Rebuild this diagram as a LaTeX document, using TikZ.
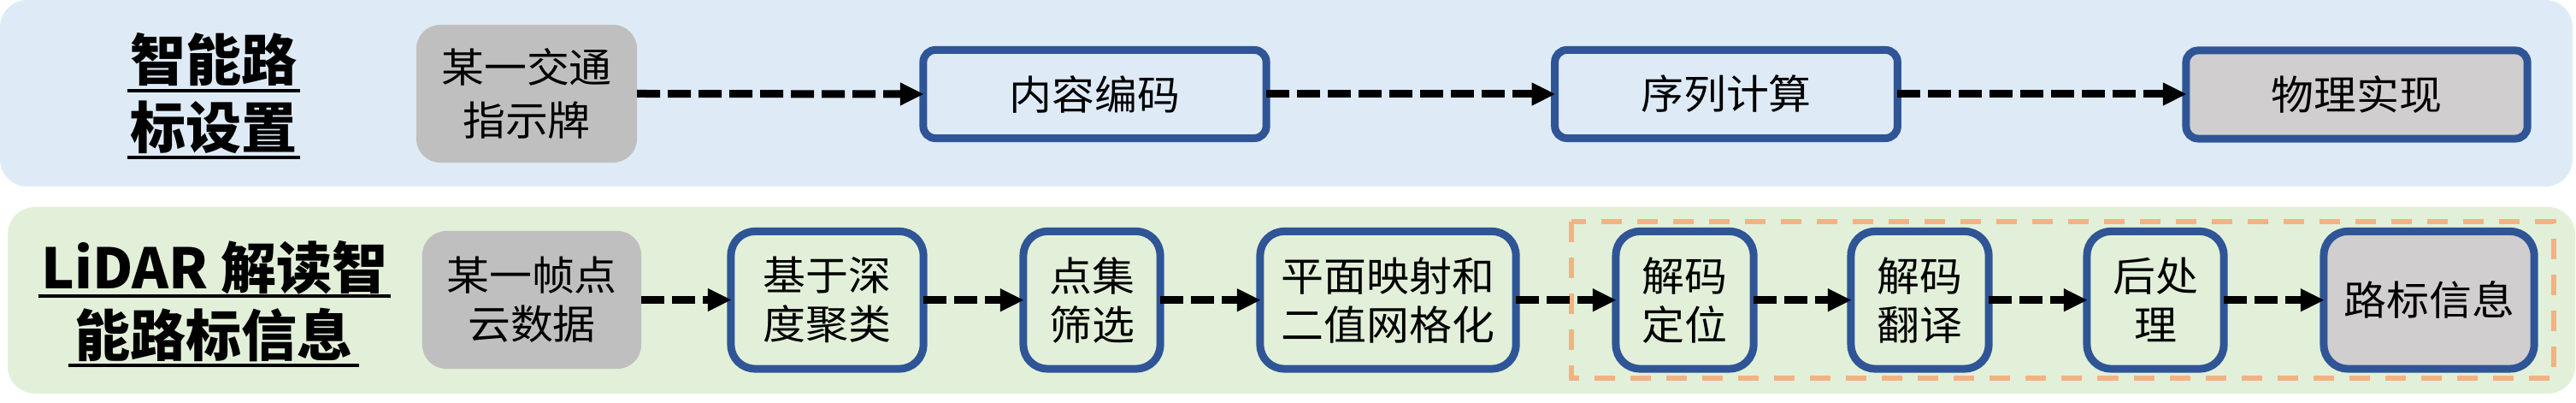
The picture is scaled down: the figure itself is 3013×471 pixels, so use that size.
\documentclass[tikz,border=0pt]{standalone}
\usepackage{fontspec}
\newfontfamily\cjk[FakeStretch=1.06]{Noto Sans CJK SC}
\newfontfamily\cjkt{Noto Sans CJK SC}
\usetikzlibrary{arrows.meta}
\definecolor{panelblue}{RGB}{222,235,247}
\definecolor{panelgreen}{RGB}{226,240,217}
\definecolor{boxgray}{RGB}{191,191,191}
\definecolor{boxgraytwo}{RGB}{208,206,206}
\definecolor{boxblue}{RGB}{47,85,151}
\definecolor{dashorange}{RGB}{244,177,131}
\tikzset{
  panel/.style={rounded corners=0.32cm},
  titletext/.style={inner sep=0pt, outer sep=0pt, font=\fontsize{18.5pt}{22pt}\cjkt\bfseries},
  uline/.style={line width=1.1pt, black},
  bodyfontlow/.style={font=\fontsize{13.4pt}{16.2pt}\cjk},
  bodyfonttop/.style={font=\fontsize{13.4pt}{17.6pt}\cjk},
  graybox/.style={fill=boxgray, rounded corners=0.28cm, inner sep=0pt, outer sep=0pt, align=center},
  topbox/.style={draw=boxblue, line width=2.56pt, rounded corners=0.14cm, inner sep=0pt, outer sep=0pt, align=center, minimum height=1.03cm},
  lowbox/.style={draw=boxblue, line width=2.56pt, rounded corners=0.28cm, inner sep=0pt, outer sep=0pt, align=center, minimum height=1.605cm},
  flow/.style={line width=2.56pt, dash pattern=on 7.68pt off 2.56pt, -{Triangle[length=7.68pt,width=7.68pt,line width=0.3pt]}},
  orangebox/.style={draw=dashorange, line width=1.7pt, dash pattern=on 6.83pt off 5.12pt}
}
\begin{document}
\begin{tikzpicture}[x=0.01cm,y=-0.01cm]
\useasboundingbox (0,0) rectangle (3013,471);
% panels
\fill[panelblue, panel] (0,0) rectangle (3009,218);
\fill[panelgreen, panel] (9,242) rectangle (3012,460);
\draw[orangebox] (1838,259) rectangle (2987,442);
% top titles
\node[titletext] (t1) at (250,70) {智能路};
\node[titletext] (t2) at (250,149) {标设置};
\draw[uline] ([yshift=-1.28pt,xshift=-1pt]t1.south west) -- ([yshift=-1.28pt,xshift=1pt]t1.south east);
\draw[uline] ([yshift=-1.28pt,xshift=-1pt]t2.south west) -- ([yshift=-1.28pt,xshift=1pt]t2.south east);
% top row
\node[graybox, bodyfonttop, minimum width=2.58cm, minimum height=1.61cm] (g1) at (616,109.5) {某一交通\\指示牌};
\node[topbox, bodyfonttop, minimum width=4.01cm] (b2) at (1280.5,110) {内容编码};
\node[topbox, bodyfonttop, minimum width=4.005cm] (b3) at (2019,110) {序列计算};
\node[topbox, bodyfonttop, fill=boxgraytwo, minimum width=3.99cm] (b4) at (2756.5,110.5) {物理实现};
\draw[flow] (g1.east) -- (b2.west);
\draw[flow] (b2.east) -- (b3.west);
\draw[flow] (b3.east) -- (b3.east -| b4.west);
% bottom titles
\node[titletext] (t3) at (251,313) {LiDAR 解读智};
\node[titletext] (t4) at (250,392) {能路标信息};
\draw[uline] ([yshift=-0.4pt,xshift=-1pt]t3.south west) -- ([yshift=-0.4pt,xshift=1pt]t3.south east);
\draw[uline] ([yshift=-1pt,xshift=-2pt]t4.south west) -- ([yshift=-1pt,xshift=2pt]t4.south east);
% bottom row
\node[graybox, bodyfontlow, minimum width=2.56cm, minimum height=1.61cm] (g2) at (622,350.5) {某一帧点\\云数据};
\node[lowbox, bodyfontlow, minimum width=2.25cm] (c1) at (967.5,350.75) {基于深\\度聚类};
\node[lowbox, bodyfontlow, minimum width=1.60cm] (c2) at (1277,350.75) {点集\\筛选};
\node[lowbox, bodyfontlow, minimum width=2.99cm] (c3) at (1623.5,350.75) {平面映射和\\二值网格化};
\node[lowbox, bodyfontlow, minimum width=1.61cm] (c4) at (1970.5,350.75) {解码\\定位};
\node[lowbox, bodyfontlow, minimum width=1.61cm] (c5) at (2245.5,350.75) {解码\\翻译};
\node[lowbox, bodyfontlow, minimum width=1.60cm] (c6) at (2521,350.75) {后处\\理};
\node[lowbox, bodyfontlow, fill=boxgraytwo, minimum width=2.46cm] (c7) at (2841,350.75) {路标信息};
\draw[flow] (g2.east) -- (g2.east -| c1.west);
\draw[flow] (c1.east) -- (c2.west);
\draw[flow] (c2.east) -- (c3.west);
\draw[flow] (c3.east) -- (c4.west);
\draw[flow] (c4.east) -- (c5.west);
\draw[flow] (c5.east) -- (c6.west);
\draw[flow] (c6.east) -- (c7.west);
\end{tikzpicture}
\end{document}
